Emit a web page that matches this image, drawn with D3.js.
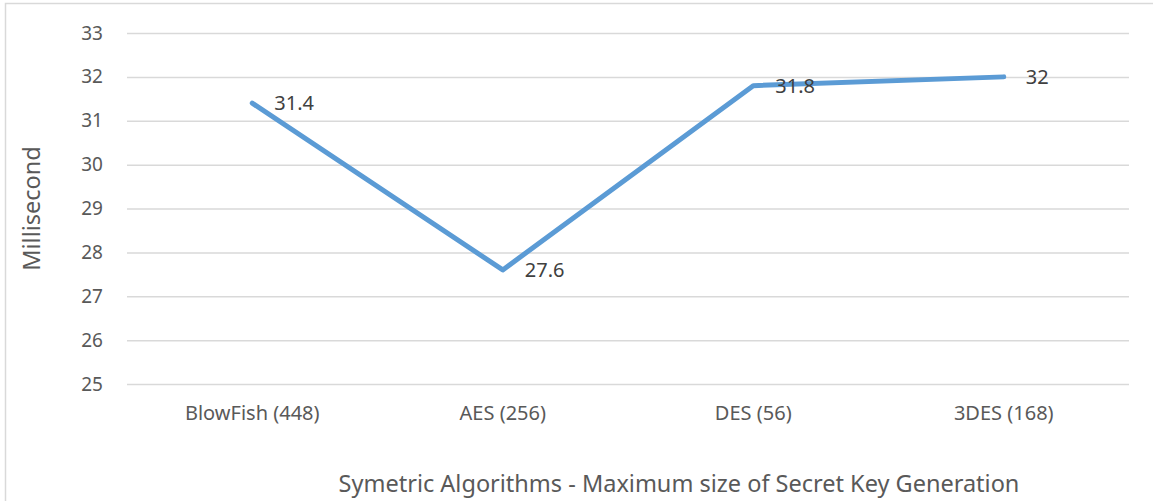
<!DOCTYPE html>
<html>
<head>
<meta charset="utf-8">
<script src="https://cdn.jsdelivr.net/npm/d3@7"></script>
<style>
  html, body { margin: 0; padding: 0; background: #ffffff; }
  svg { display: block; }
  svg text { font-family: "Noto Sans", "Open Sans", sans-serif; }
</style>
</head>
<body>
<svg id="chart" width="1153" height="501"></svg>
<script>
// Key generation time per symmetric algorithm (milliseconds)
const categories = ["BlowFish (448)", "AES (256)", "DES (56)", "3DES (168)"];
const values = [31.4, 27.6, 31.8, 32];
const yTicks = [25, 26, 27, 28, 29, 30, 31, 32, 33];
const yTitle = "Millisecond";
const xTitle = "Symetric Algorithms - Maximum size of Secret Key Generation";

const FONT = '"Noto Sans", "Open Sans", sans-serif';
const svg = d3.select("#chart");
const W = 1153, H = 501;
const plot = { left: 127, right: 1129, top: 33, bottom: 384 };

// outer chart frame
svg.append("rect")
  .attr("x", 5.5).attr("y", 3.5)
  .attr("width", W + 10).attr("height", H + 10)
  .attr("fill", "#ffffff")
  .attr("stroke", "#d9d9d9").attr("stroke-width", 1.5);

const x = d3.scaleBand()
  .domain(categories)
  .range([plot.left, plot.right]);

const y = d3.scaleLinear()
  .domain([25, 33])
  .range([plot.bottom, plot.top]);

// horizontal gridlines with tick labels
const yAxis = d3.axisLeft(y).tickValues(yTicks).tickFormat(d3.format("d"))
  .tickSize(-(plot.right - plot.left)).tickPadding(24);
const gy = svg.append("g")
  .attr("transform", `translate(${plot.left},0)`)
  .call(yAxis)
  .attr("font-family", FONT);
gy.select(".domain").remove();
gy.selectAll(".tick line").attr("stroke", "#d9d9d9").attr("stroke-width", 1.5);
gy.selectAll(".tick text")
  .attr("fill", "#595959").attr("font-size", 19);

// category labels
const xAxis = d3.axisBottom(x).tickSize(0).tickPadding(22);
const gx = svg.append("g")
  .attr("transform", `translate(0,${plot.bottom})`)
  .call(xAxis)
  .attr("font-family", FONT);
gx.select(".domain").remove();
gx.selectAll(".tick text")
  .attr("fill", "#595959").attr("font-size", 20);

// series line
const pts = categories.map((c, i) => [x(c) + x.bandwidth() / 2, y(values[i])]);
svg.append("path")
  .attr("d", d3.line()(pts))
  .attr("fill", "none")
  .attr("stroke", "#5b9bd5")
  .attr("stroke-width", 5)
  .attr("stroke-linejoin", "round")
  .attr("stroke-linecap", "round");

// data labels to the right of each point
svg.append("g").selectAll("text")
  .data(categories)
  .join("text")
  .attr("x", (c) => x(c) + x.bandwidth() / 2 + 22)
  .attr("y", (c, i) => y(values[i]))
  .attr("dy", "0.35em")
  .attr("fill", "#404040")
  .attr("font-size", 20)
  .text((c, i) => d3.format("")(values[i]));

// axis titles
svg.append("text")
  .attr("transform", `translate(40,${(plot.top + plot.bottom) / 2}) rotate(-90)`)
  .attr("text-anchor", "middle")
  .attr("fill", "#595959")
  .attr("font-size", 23.5)
  .text(yTitle);

svg.append("text")
  .attr("x", 679).attr("y", 492)
  .attr("text-anchor", "middle")
  .attr("fill", "#595959")
  .attr("font-size", 23.5)
  .text(xTitle);
</script>
</body>
</html>
